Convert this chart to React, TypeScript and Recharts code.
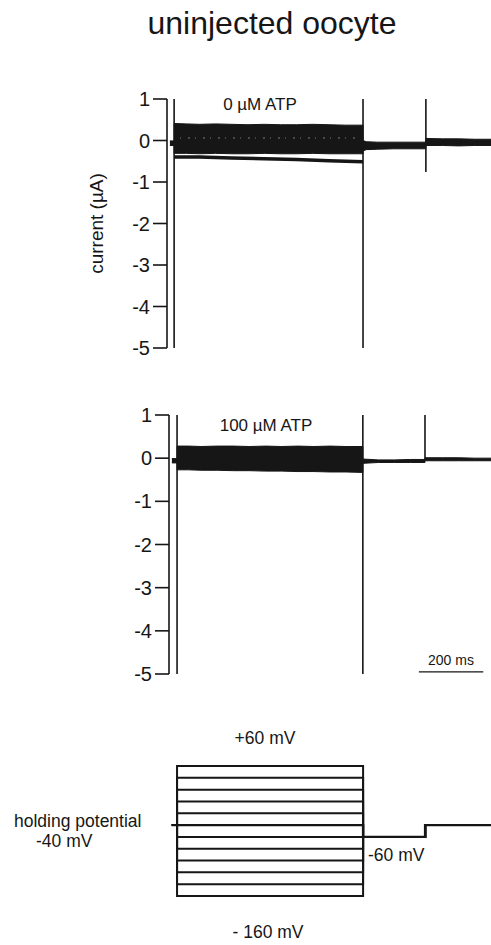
import React from 'react';
import { ComposedChart, Area, Line, XAxis, YAxis, Label } from 'recharts';

const FONT = '"Liberation Sans", Arial, Helvetica, sans-serif';
const INK = '#161616';

const currentTicks = [1, 0, -1, -2, -3, -4, -5];

// ---------- Panel 1: 0 µM ATP (time in ms, current in µA) ----------
const p1Time = [9, 22, 22, 60, 100, 150, 200, 250, 300, 350, 400, 450, 500, 550, 605, 605, 615, 650, 700, 750, 799, 799, 850, 900, 950, 1000];
const p1High = [-0.01, -0.01, 0.41, 0.40, 0.39, 0.40, 0.39, 0.38, 0.39, 0.38, 0.38, 0.39, 0.38, 0.37, 0.37, 0.0, -0.03, -0.04, -0.04, -0.04, -0.04, 0.05, 0.04, 0.04, 0.03, 0.03];
const p1Low = [-0.12, -0.12, -0.31, -0.31, -0.32, -0.31, -0.32, -0.32, -0.31, -0.32, -0.32, -0.31, -0.32, -0.32, -0.32, -0.25, -0.22, -0.21, -0.2, -0.2, -0.2, -0.12, -0.12, -0.13, -0.12, -0.12];
const p1DriftTime = [22, 100, 200, 300, 400, 500, 605];
const p1DriftValue = [-0.4, -0.4, -0.42, -0.44, -0.46, -0.49, -0.51];
const p1TransientTime = [22, 605, 799];
const p1TransientTop = [1, 1, 1];
const p1TransientBottom = [-5, -5, -0.76];
const p1SpeckTime = [40, 590];
const p1SpeckValue = [0.06, 0.06];

// ---------- Panel 2: 100 µM ATP ----------
const p2Time = [9, 25, 25, 60, 100, 150, 200, 250, 300, 350, 400, 450, 500, 550, 602, 602, 650, 700, 750, 795, 795, 850, 900, 950, 1000];
const p2High = [-0.01, -0.01, 0.28, 0.28, 0.27, 0.28, 0.28, 0.27, 0.28, 0.27, 0.28, 0.27, 0.28, 0.27, 0.27, -0.02, -0.04, -0.04, -0.03, -0.03, 0.01, 0.01, 0.01, 0.0, 0.0];
const p2Low = [-0.11, -0.11, -0.27, -0.27, -0.28, -0.28, -0.29, -0.29, -0.3, -0.3, -0.31, -0.31, -0.32, -0.32, -0.33, -0.12, -0.1, -0.1, -0.1, -0.1, -0.06, -0.06, -0.06, -0.06, -0.06];
const p2TransientTime = [25, 602, 795];
const p2TransientTop = [1, 1, 1];
const p2TransientBottom = [-5, -5, -0.03];
const scaleBarTime = [776, 976];
const scaleBarValue = [-4.95, -4.95];

// ---------- Voltage protocol (mV) ----------
const stepLevels = [60, 40, 20, 0, -20, -40, -60, -80, -100, -120, -140, -160];
const holdingPotential = -40;
const tailPotential = -60;
const protocolTime = [12, 28, 604, 796, 1000];

const rangeRows = (t: number[], lo: number[], hi: number[]) =>
  t.map((x, i) => ({ t: x, range: [lo[i], hi[i]] }));
const lineRows = (t: number[], v: number[]) => t.map((x, i) => ({ t: x, v: v[i] }));
const transientRows = (t: number[], top: number[], bottom: number[]) =>
  t.map((x, i) => [
    { t: x, v: top[i] },
    { t: x, v: bottom[i] },
  ]);

const sweepRows = (level: number) => {
  const [t0, t1, t2, t3, t4] = protocolTime;
  return [
    { t: t0, v: holdingPotential },
    { t: t1, v: holdingPotential },
    { t: t1, v: level },
    { t: t2, v: level },
    { t: t2, v: tailPotential },
    { t: t3, v: tailPotential },
    { t: t3, v: holdingPotential },
    { t: t4, v: holdingPotential },
  ];
};

const p1Data = rangeRows(p1Time, p1Low, p1High);
const p2Data = rangeRows(p2Time, p2Low, p2High);

const YLabel = (props: any) => {
  const vb = props.viewBox || { x: 0, y: 0, width: 0, height: 0 };
  const x = vb.x + 96;
  const y = vb.y + vb.height / 2;
  return (
    <text
      x={x}
      y={y}
      transform={`rotate(-90, ${x}, ${y})`}
      textAnchor="middle"
      dominantBaseline="central"
      fontSize={19}
      fontFamily={FONT}
      fill={INK}
    >
      current (µA)
    </text>
  );
};

const CurrentPanel = (p: {
  data: any[];
  top: number;
  height: number;
  mTop: number;
  mBottom: number;
  axisWidth: number;
  transients: any[][];
  extra?: React.ReactNode;
  showLabel?: boolean;
}) => (
  <div style={{ position: 'absolute', left: 0, top: p.top }}>
    <ComposedChart
      width={491}
      height={p.height}
      data={p.data}
      margin={{ top: p.mTop, right: 0, bottom: p.mBottom, left: 0 }}
    >
      <XAxis type="number" dataKey="t" domain={[0, 1000]} hide allowDataOverflow />
      <YAxis
        type="number"
        domain={[-5, 1]}
        ticks={currentTicks}
        interval={0}
        width={p.axisWidth}
        tickSize={14}
        tickMargin={3}
        axisLine={{ stroke: INK, strokeWidth: 1.6 }}
        tickLine={{ stroke: INK, strokeWidth: 1.6 }}
        tick={{ fontSize: 20, fontFamily: FONT, fill: INK }}
        allowDataOverflow
      >
        {p.showLabel ? <Label content={<YLabel />} /> : null}
      </YAxis>
      <Area
        type="linear"
        dataKey="range"
        fill={INK}
        fillOpacity={1}
        stroke={INK}
        strokeWidth={1}
        isAnimationActive={false}
        dot={false}
        activeDot={false}
      />
      {p.transients.map((d, i) => (
        <Line
          key={'tr' + i}
          data={d}
          dataKey="v"
          type="linear"
          stroke={INK}
          strokeWidth={1.6}
          dot={false}
          activeDot={false}
          isAnimationActive={false}
        />
      ))}
      {p.extra}
    </ComposedChart>
  </div>
);

export default function App() {
  const p1Transients = transientRows(p1TransientTime, p1TransientTop, p1TransientBottom);
  const p2Transients = transientRows(p2TransientTime, p2TransientTop, p2TransientBottom);

  return (
    <div
      style={{
        position: 'absolute',
        left: 0,
        top: 0,
        width: 491,
        height: 945,
        background: '#fff',
        overflow: 'hidden',
      }}
    >
      <CurrentPanel
        data={p1Data}
        top={80}
        height={280}
        mTop={19}
        mBottom={12}
        axisWidth={167}
        transients={p1Transients}
        showLabel
        extra={[
          <Line
            key="drift"
            data={lineRows(p1DriftTime, p1DriftValue)}
            dataKey="v"
            type="linear"
            stroke={INK}
            strokeWidth={3.5}
            dot={false}
            activeDot={false}
            isAnimationActive={false}
          />,
          <Line
            key="speck"
            data={lineRows(p1SpeckTime, p1SpeckValue)}
            dataKey="v"
            type="linear"
            stroke="#ffffff"
            strokeOpacity={0.45}
            strokeWidth={1}
            strokeDasharray="1 7 2 5"
            dot={false}
            activeDot={false}
            isAnimationActive={false}
          />,
        ]}
      />
      <CurrentPanel
        data={p2Data}
        top={400}
        height={290}
        mTop={15}
        mBottom={16}
        axisWidth={169}
        transients={p2Transients}
        extra={[
          <Line
            key="scale"
            data={lineRows(scaleBarTime, scaleBarValue)}
            dataKey="v"
            type="linear"
            stroke={INK}
            strokeWidth={1.2}
            dot={false}
            activeDot={false}
            isAnimationActive={false}
          />,
        ]}
      />
      <div style={{ position: 'absolute', left: 0, top: 720 }}>
        <ComposedChart width={491} height={225} margin={{ top: 46, right: 0, bottom: 49, left: 168 }}>
          <XAxis type="number" dataKey="t" domain={[0, 1000]} hide />
          <YAxis type="number" domain={[-160, 60]} hide />
          {stepLevels.map((lv) => (
            <Line
              key={'sw' + lv}
              data={sweepRows(lv)}
              dataKey="v"
              type="linear"
              stroke={INK}
              strokeWidth={lv === holdingPotential ? 2.4 : 2}
              dot={false}
              activeDot={false}
              isAnimationActive={false}
            />
          ))}
        </ComposedChart>
      </div>
      <svg
        width={491}
        height={945}
        style={{ position: 'absolute', left: 0, top: 0, pointerEvents: 'none' }}
        fontFamily={FONT}
        fill={INK}
      >
        <text x={272} y={34} fontSize={32} textAnchor="middle">
          uninjected oocyte
        </text>
        <text x={260} y={110} fontSize={17} textAnchor="middle">
          0 µM ATP
        </text>
        <text x={266} y={431} fontSize={17} textAnchor="middle">
          100 µM ATP
        </text>
        <text x={451} y={665} fontSize={14} textAnchor="middle">
          200 ms
        </text>
        <text x={265} y={744} fontSize={17.5} textAnchor="middle">
          +60 mV
        </text>
        <text x={14} y={827} fontSize={17.5}>
          holding potential
        </text>
        <text x={36} y={847} fontSize={17.5}>
          -40 mV
        </text>
        <text x={368} y={861} fontSize={17.5}>
          -60 mV
        </text>
        <text x={268} y={938} fontSize={17.5} textAnchor="middle">
          - 160 mV
        </text>
      </svg>
    </div>
  );
}
